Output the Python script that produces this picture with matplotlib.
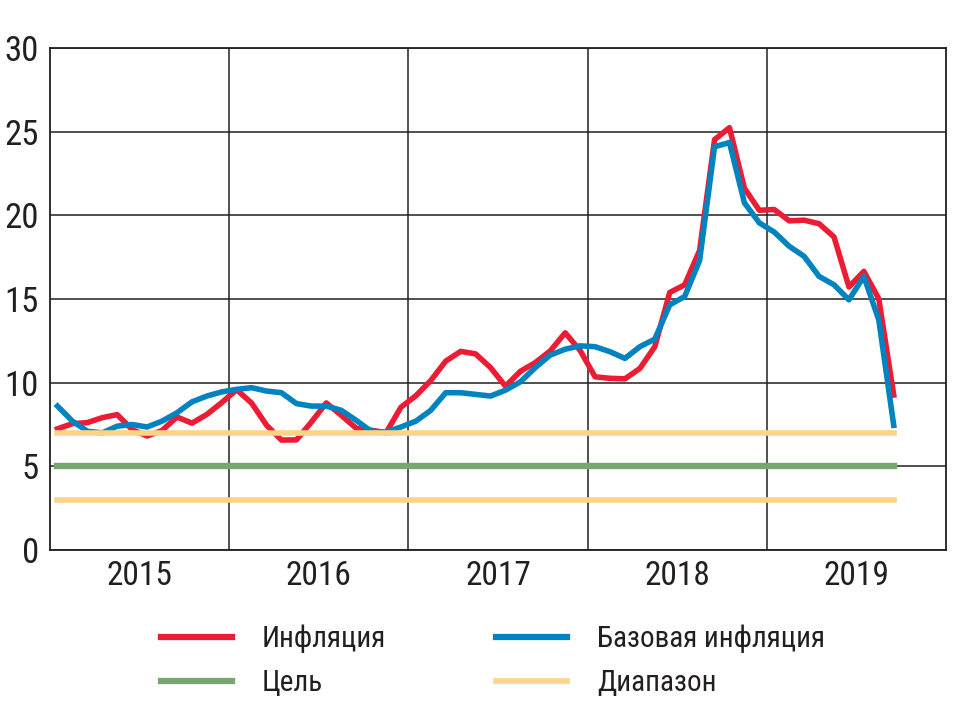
import numpy as np
import matplotlib
matplotlib.use("Agg")
import matplotlib.pyplot as plt
from matplotlib import font_manager as fm
from matplotlib.lines import Line2D

# годовая инфляция, % (янв 2015 - сен 2019)
inflation = [
    7.24, 7.55, 7.61, 7.91, 8.09, 7.20, 6.81, 7.14, 7.95, 7.58, 8.10, 8.81,
    9.58, 8.78, 7.46, 6.57, 6.58, 7.64, 8.79, 8.05, 7.28, 7.16, 7.00, 8.53,
    9.22, 10.13, 11.29, 11.87, 11.72, 10.90, 9.79, 10.68, 11.20, 11.90, 12.98, 11.92,
    10.35, 10.26, 10.23, 10.85, 12.15, 15.39, 15.85, 17.90, 24.52, 25.24, 21.62, 20.30,
    20.35, 19.67, 19.71, 19.50, 18.71, 15.72, 16.65, 15.01, 9.26,
]
# базовая инфляция, %
core = [
    8.6, 7.7, 7.1, 7.0, 7.4, 7.5, 7.35, 7.7, 8.2, 8.85, 9.2, 9.45,
    9.6, 9.7, 9.5, 9.4, 8.75, 8.6, 8.6, 8.35, 7.75, 7.1, 7.05, 7.35,
    7.7, 8.35, 9.4, 9.4, 9.3, 9.2, 9.55, 10.05, 10.9, 11.65, 12.0, 12.2,
    12.15, 11.85, 11.45, 12.15, 12.6, 14.65, 15.15, 17.3, 24.1, 24.35, 20.75, 19.55,
    19.0, 18.15, 17.55, 16.35, 15.85, 14.95, 16.35, 13.75, 7.45,
]
target = 5
band_low, band_high = 3, 7
years = [2015, 2016, 2017, 2018, 2019]

labels = ["Инфляция", "Цель", "Базовая инфляция", "Диапазон"]
c_red = "#ED1C35"
c_blue = "#0083BE"
c_green = "#76A76E"
c_yellow = "#FDD386"
c_dark = "#231F20"

# узкий шрифт: Roboto Condensed, если есть, иначе DejaVu Sans Condensed
try:
    fm.findfont("Roboto Condensed", fallback_to_default=False)
    plt.rcParams["font.family"] = ["Roboto Condensed", "DejaVu Sans"]
    fs_y, fs_x, fs_leg, lab_sp = 25, 24, 21, 0.56
except ValueError:
    plt.rcParams["font.family"] = ["DejaVu Sans"]
    fs_y, fs_x, fs_leg, lab_sp = 23, 21, 19, 0.57
plt.rcParams["font.stretch"] = "condensed"

x = 2015 + (np.arange(len(inflation)) + 0.5) / 12

fig = plt.figure(figsize=(9.62, 7.22), dpi=100)
W, H = 962, 722
ax = fig.add_axes([50 / W, (H - 550) / H, (946 - 50) / W, (550 - 48) / H])

ax.plot(x, inflation, color=c_red, lw=4.0, zorder=3)
ax.plot(x, core, color=c_blue, lw=4.0, zorder=4)
ax.plot([x[0], x[-1]], [target, target], color=c_green, lw=4.6, zorder=5)
ax.plot([x[0], x[-1]], [band_high, band_high], color=c_yellow, lw=4.0, zorder=5)
ax.plot([x[0], x[-1]], [band_low, band_low], color=c_yellow, lw=4.0, zorder=5)

ax.set_xlim(2015, 2020)
ax.set_ylim(0, 30)
ax.set_yticks(range(0, 31, 5))
ax.set_xticks(years[1:])
ax.set_xticklabels([])
ax.set_xticks([y + 0.5 for y in years], minor=True)
ax.set_xticklabels([str(y) for y in years], minor=True)
ax.grid(True, which="major", color=c_dark, lw=1.1)
ax.set_axisbelow(True)
for s in ax.spines.values():
    s.set_color(c_dark)
    s.set_linewidth(1.3)
ax.tick_params(axis="both", which="both", length=0, colors=c_dark)
ax.tick_params(axis="y", labelsize=fs_y, pad=8)
ax.tick_params(axis="x", which="minor", labelsize=fs_x, pad=7)

handles = [
    Line2D([], [], color=c_red, lw=4.5),
    Line2D([], [], color=c_green, lw=4.5),
    Line2D([], [], color=c_blue, lw=4.5),
    Line2D([], [], color=c_yellow, lw=4.0),
]
hl = 71 / (fs_leg * 100 / 72)
tp = 30 / (fs_leg * 100 / 72)
kw = dict(frameon=False, fontsize=fs_leg, handlelength=hl, handletextpad=tp,
          labelspacing=lab_sp, borderpad=0, borderaxespad=0, loc="center left",
          labelcolor=c_dark)
leg1 = fig.legend(handles[:2], labels[:2], bbox_to_anchor=(161 / W, 1 - 661 / H), **kw)
leg2 = fig.legend(handles[2:], labels[2:], bbox_to_anchor=(496 / W, 1 - 661 / H), **kw)

fig.savefig("out.png", dpi=100)
